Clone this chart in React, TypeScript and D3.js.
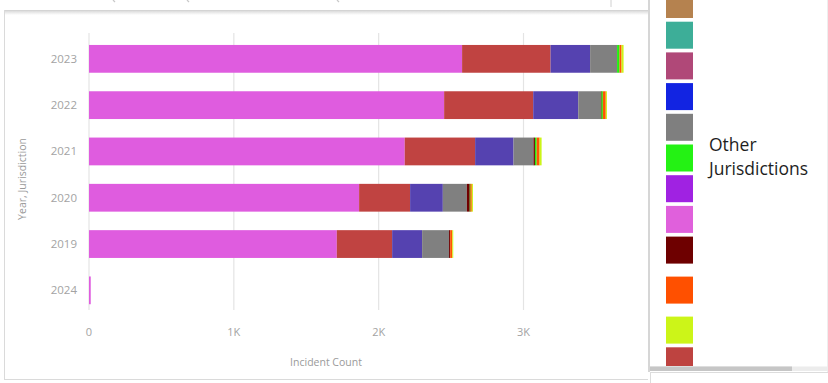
import React from "react";
import * as d3 from "d3";

// Years on the category axis, top to bottom
const years = ["2023", "2022", "2021", "2020", "2019", "2024"];

// Incident counts per jurisdiction group, one value per year (same order as `years`)
const seriesKeys = ["s1", "s2", "s3", "s4", "s5", "s6", "s7", "s8"];
const s1 = [2576, 2452, 2180, 1865, 1711, 12];
const s2 = [611, 615, 486, 352, 382, 0];
const s3 = [273, 311, 265, 226, 207, 0];
const s4 = [186, 155, 138, 166, 186, 0];
const s5 = [0, 5, 10, 20, 8, 0];
const s6 = [17, 10, 12, 4, 0, 0];
const s7 = [14, 20, 20, 10, 14, 0];
const s8 = [14, 8, 14, 8, 6, 0];
const seriesValues = [s1, s2, s3, s4, s5, s6, s7, s8];
const seriesColors = ["#DF5CDF", "#C04341", "#5542B0", "#808080", "#700000", "#22EE11", "#FF5500", "#CCF518"];

// X axis ticks
const xTicks = [0, 1000, 2000, 3000];
const xTickLabels = ["0", "1K", "2K", "3K"];

// Legend swatches (partially scrolled), and the number of label lines per entry
const legendColors = ["#B5824F", "#3DAE98", "#B04878", "#1224E2", "#7F7F7F", "#24F214", "#A022E2", "#E060DC", "#6E0000", "#FF5000", "#CCF518", "#BE4340"];
const legendLines = [1, 1, 1, 1, 1, 1, 1, 1, 2, 2, 1, 1];
const legendLabel = ["Other", "Jurisdictions"];
const legendLabelIndex = 5;

const W = 828;
const H = 383;

export default function App() {
  const x = d3.scaleLinear().domain([0, 3000]).range([89, 523.5]);
  const y = d3
    .scaleBand<string>()
    .domain(years)
    .range([35.7, 313.5])
    .paddingInner(0.4)
    .paddingOuter(0.2);

  const table = years.map((yr, i) => {
    const row: Record<string, any> = { year: yr };
    seriesKeys.forEach((k, j) => (row[k] = seriesValues[j][i]));
    return row;
  });
  const stacked = d3.stack<Record<string, any>>().keys(seriesKeys)(table);

  // legend layout
  const legendTop = -9;
  const rowH = 30.7;
  const rowH2 = 40;
  let acc = legendTop;
  const legendRows = legendColors.map((c, i) => {
    const top = acc;
    acc += legendLines[i] === 2 ? rowH2 : rowH;
    return { c, top };
  });
  const labelRow = legendRows[legendLabelIndex];

  const font = "'Open Sans', 'Noto Sans', sans-serif";
  const tickColor = "#A3A3A3";

  return (
    <svg
      width={W}
      height={H}
      style={{ position: "absolute", left: 0, top: 0, background: "#fff" }}
      fontFamily={font}
    >
      <defs>
        <linearGradient id="shadow" x1="0" y1="0" x2="0" y2="1">
          <stop offset="0" stopColor="#dcdcdc" />
          <stop offset="1" stopColor="#ffffff" />
        </linearGradient>
        <clipPath id="legendClip">
          <rect x={650} y={0} width={178} height={366} />
        </clipPath>
      </defs>

      {/* glyph bits of the header above the panel */}
      {[113, 187, 337].map((gx) => (
        <line key={gx} x1={gx} x2={gx + 2} y1={0} y2={2} stroke="#c8c8c8" strokeWidth={1.2} />
      ))}
      <line x1={611} x2={611} y1={0} y2={7} stroke="#d0d0d0" strokeWidth={1} />

      {/* chart panel frame */}
      <rect x={4} y={11} width={644} height={4} fill="url(#shadow)" />
      <line x1={4} x2={648} y1={10.5} y2={10.5} stroke="#d4d4d4" />
      <line x1={4.5} x2={4.5} y1={10} y2={380} stroke="#dadada" />
      <line x1={4} x2={648} y1={379.5} y2={379.5} stroke="#dadada" />

      {/* gridlines */}
      {xTicks.map((t) => (
        <line key={t} x1={x(t)} x2={x(t)} y1={33} y2={310} stroke="#E4E4E4" strokeWidth={1.2} />
      ))}

      {/* stacked bars */}
      {stacked.map((layer, li) => (
        <g key={layer.key} fill={seriesColors[li]}>
          {layer.map((d, i) => {
            const w = x(d[1]) - x(d[0]);
            if (w <= 0) return null;
            return (
              <rect
                key={i}
                x={x(d[0])}
                y={y(years[i])}
                width={Math.max(w, 1)}
                height={y.bandwidth()}
              />
            );
          })}
        </g>
      ))}

      {/* y tick labels */}
      {years.map((yr) => (
        <text
          key={yr}
          x={77}
          y={(y(yr) ?? 0) + y.bandwidth() / 2}
          dy="0.35em"
          textAnchor="end"
          fontSize={11.5}
          fill={tickColor}
        >
          {yr}
        </text>
      ))}

      {/* x tick labels */}
      {xTicks.map((t, i) => (
        <text key={t} x={x(t)} y={332} dy="0.35em" textAnchor="middle" fontSize={11} fill={tickColor}>
          {xTickLabels[i]}
        </text>
      ))}

      {/* axis titles */}
      <text x={326} y={362} dy="0.35em" textAnchor="middle" fontSize={10.5} fill="#9A9A9A">
        Incident Count
      </text>
      <text
        transform="translate(22,179) rotate(-90)"
        textAnchor="middle"
        dy="0.35em"
        fontSize={10.5}
        fill="#9A9A9A"
      >
        Year, Jurisdiction
      </text>

      {/* legend panel */}
      <line x1={649} x2={649} y1={0} y2={372} stroke="#d6d6d6" strokeWidth={2} />
      <line x1={827.5} x2={827.5} y1={0} y2={372} stroke="#eeeeee" />
      <g clipPath="url(#legendClip)">
        {legendRows.map((r, i) => (
          <rect key={i} x={666} y={r.top} width={27} height={27} fill={r.c} />
        ))}
        <text x={709} y={labelRow.top + 6.7} fontSize={17.5} fill="#1E1E1E">
          {legendLabel[0]}
        </text>
        <text x={709} y={labelRow.top + 30.7} fontSize={17.5} fill="#1E1E1E">
          {legendLabel[1]}
        </text>
      </g>

      {/* horizontal scrollbar of the legend */}
      <rect x={650} y={366.5} width={178} height={4.5} fill="#ececec" />
      <rect x={650} y={366.5} width={142} height={4.5} fill="#c6c6c6" />
      <line x1={650} x2={828} y1={372.5} y2={372.5} stroke="#dcdcdc" />
      <line x1={650.5} x2={650.5} y1={372} y2={383} stroke="#dcdcdc" />
    </svg>
  );
}
